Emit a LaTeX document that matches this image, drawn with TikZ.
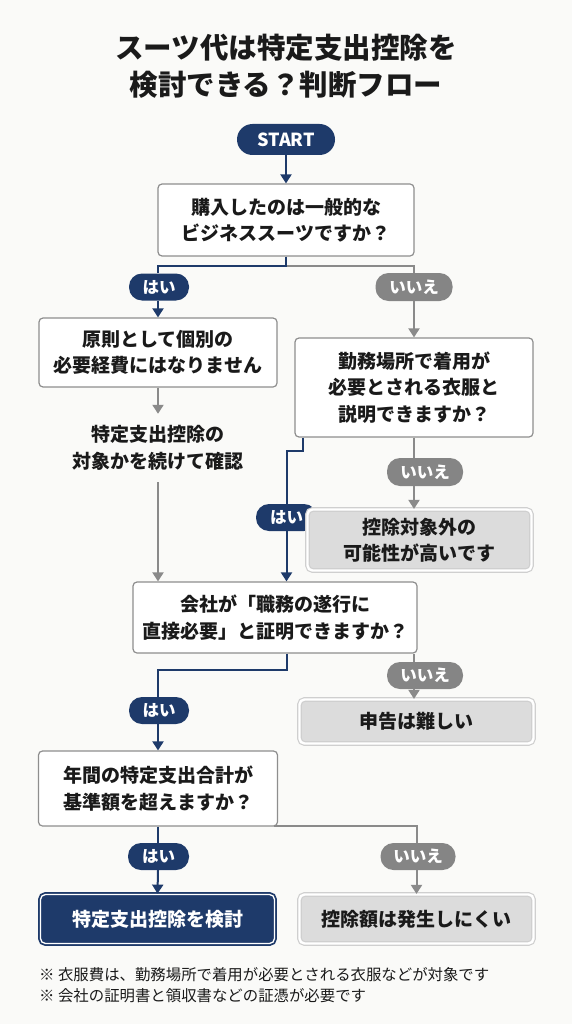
\documentclass[tikz,border=0pt]{standalone}
\usepackage{fontspec}
\setmainfont{Noto Sans CJK JP}
\usetikzlibrary{arrows.meta,calc}
\definecolor{navy}{HTML}{1E3A6A}
\definecolor{linegray}{HTML}{8A8A8A}
\definecolor{pillgray}{HTML}{858585}
\definecolor{boxgray}{HTML}{8E8E8E}
\definecolor{endfill}{HTML}{DCDCDC}
\definecolor{endborder}{HTML}{CFCFCF}
\definecolor{txt}{HTML}{1A1A1A}
\definecolor{bg}{HTML}{FAFAF8}
\tikzset{
  basefont/.style={font=\bfseries\fontsize{19}{26.5}\selectfont},
  qbox/.style={basefont, draw=boxgray, line width=1.2pt, fill=white, rounded corners=4pt,
    align=center, inner sep=0pt, text=txt},
  npill/.style={fill=navy, text=white, rounded corners=13pt, inner sep=0pt,
    font=\bfseries\fontsize{16.5}{18}\selectfont},
  gpill/.style={fill=pillgray, text=white, rounded corners=13pt, inner sep=0pt,
    font=\bfseries\fontsize{16.5}{18}\selectfont},
  gend/.style={basefont, draw=endborder, double=white, double distance=2.4pt, line width=1.2pt,
    fill=endfill, rounded corners=5pt, align=center, inner sep=0pt, text=txt},
  nend/.style={basefont, draw=navy, double=white, double distance=1.3pt, line width=1.8pt,
    fill=navy, rounded corners=5pt, align=center, inner sep=0pt, text=white},
  nline/.style={draw=navy, line width=2pt},
  gline/.style={draw=linegray, line width=2pt},
  narr/.style={nline, -{Triangle[width=11pt,length=9pt]}},
  garr/.style={gline, -{Triangle[width=11pt,length=9pt]}},
  fnote/.style={anchor=west, inner sep=0pt, text=txt, font=\fontsize{15.4}{18}\selectfont},
}
\begin{document}
\begin{tikzpicture}[x=1pt,y=-1pt]
\useasboundingbox (0,0) rectangle (572,1024);
\fill[bg] (0,0) rectangle (572,1024);

% title
\node[font=\bfseries\fontsize{28.5}{37}\selectfont, align=center, text=txt] (title) at (286,66.5)
  {スーツ代は特定支出控除を\\検討できる？判断フロー};

% nodes
\node[fill=navy, text=white, rounded corners=15.5pt, minimum width=98pt, minimum height=31pt,
  inner sep=0pt, font=\bfseries\fontsize{18}{20}\selectfont] (start) at (286,139.5) {START};
\node[qbox, minimum width=256pt, minimum height=72pt] (box1) at (286,220)
  {購入したのは一般的な\\ビジネススーツですか？};
\node[npill, minimum width=60pt, minimum height=27pt] (hai1) at (159,287) {はい};
\node[gpill, minimum width=77pt, minimum height=28pt] (iie1) at (414,287) {いいえ};
\node[qbox, minimum width=238pt, minimum height=69pt] (box2) at (158,352.5)
  {原則として個別の\\必要経費にはなりません};
\node[basefont, align=center, text=txt, minimum height=68pt, inner sep=0pt] (note) at (158,448)
  {特定支出控除の\\対象かを続けて確認};
\node[qbox, minimum width=238pt, minimum height=99pt] (box3) at (414,387.5)
  {勤務場所で着用が\\必要とされる衣服と\\説明できますか？};
\node[npill, minimum width=61pt, minimum height=27pt] (hai2) at (286.5,517.5) {はい};
\node[gpill, minimum width=76pt, minimum height=28pt] (iie2) at (425,472) {いいえ};
\node[gend, minimum width=224pt, minimum height=61pt] (box5) at (419.5,540)
  {控除対象外の\\可能性が高いです};
\node[qbox, minimum width=284pt, minimum height=71pt] (box4) at (275,617.5)
  {会社が「職務の遂行に\\直接必要」と証明できますか？};
\node[gpill, minimum width=76pt, minimum height=27pt] (iie3) at (425,675.5) {いいえ};
\node[npill, minimum width=60pt, minimum height=27pt] (hai3) at (159,710.5) {はい};
\node[gend, minimum width=234pt, minimum height=44pt] (box7) at (416.5,721.5) {申告は難しい};
\node[qbox, minimum width=239pt, minimum height=75pt] (box6) at (158,788.5)
  {年間の特定支出合計が\\基準額を超えますか？};
\node[npill, minimum width=61pt, minimum height=27pt] (hai4) at (158.5,856.5) {はい};
\node[gpill, minimum width=75pt, minimum height=27pt] (iie4) at (418,856.5) {いいえ};
\node[nend, minimum width=234pt, minimum height=49pt] (box8) at (157.5,919) {特定支出控除を検討};
\node[gend, minimum width=234pt, minimum height=49pt] (box9) at (416.5,919) {控除額は発生しにくい};

% footnotes
\node[fnote] (fn1) at (39,974.5)
  {※ 衣服費は、勤務場所で着用が必要とされる衣服などが対象です};
\node[fnote] (fn2) at (39,995.5)
  {※ 会社の証明書と領収書などの証憑が必要です};

% connectors
\draw[narr] (start) -- (box1);
\draw[gline] (box1.south) -- ++(0,9) -| (iie1.north);
\draw[nline] (box1.south) -- ++(0,9) -| (hai1.north -| box2.north);
\draw[garr] (iie1) -- (box3);
\draw[narr] (hai1.south -| box2.north) -- (box2.north);

\draw[garr] (box2.south) -- (note.north);
\draw[garr] (note.south) -- (note.south |- box4.north);

\draw[nline] ([xshift=9pt]box3.south west) -- ++(0,13) -| (hai2.north);
\draw[narr] (hai2.south) -- (hai2.south |- box4.north);
\draw[gline] (box3.south) -- (box3.south |- iie2.north);
\draw[garr] (box3.south |- iie2.south) -- (box3.south |- box5.north);

\draw[gline] (box3.south |- box4.south) -- (box3.south |- iie3.north);
\draw[garr] (box3.south |- iie3.south) -- (box3.south |- box7.north);
\draw[nline] (box4.south -| hai2.south) -- ++(0,16) -| (hai3.north -| box6.north);
\draw[narr] (hai3.south -| box6.north) -- (box6.north);

\draw[gline] ([xshift=-4pt,yshift=1pt]box6.south east) -| (iie4.north -| box9.north);
\draw[garr] (iie4.south -| box9.north) -- (box9.north);
\draw[nline] (box6.south) -- (hai4.north -| box6.south);
\draw[narr] (hai4.south -| box6.south) -- (box8.north);
\end{tikzpicture}
\end{document}
